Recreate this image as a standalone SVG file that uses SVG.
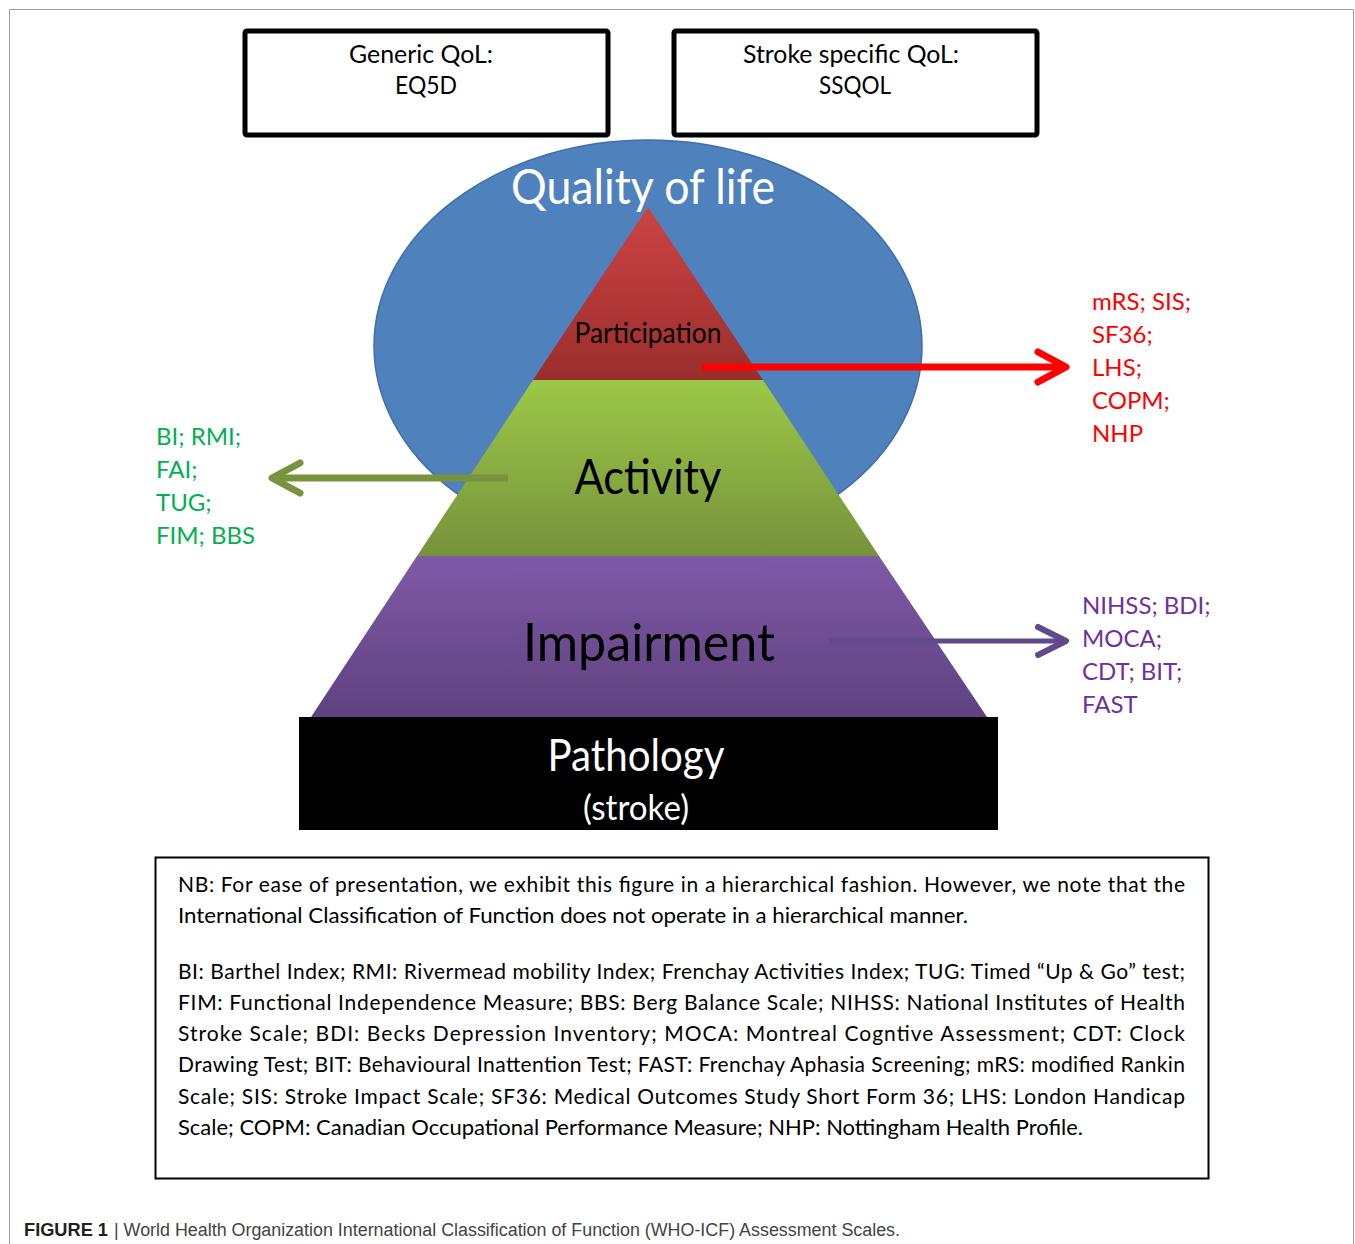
<svg xmlns="http://www.w3.org/2000/svg" width="1355" height="1244" viewBox="0 0 1355 1244">
<style>
.f{font-family:Lato,"Open Sans","Liberation Sans",sans-serif}
.box{fill:#fff;stroke:#000;stroke-width:5}
.lab{font-size:25px;fill:#000;text-anchor:middle}
.side{font-size:24px}
.g{fill:#00B050}.r{fill:#FF0000}.p{fill:#7030A0}
.nb{font-size:21px;fill:#000}
.cap{font-family:"Liberation Sans Narrow","Liberation Sans",sans-serif;font-size:18px}
</style>
<defs>
<linearGradient id="gr" x1="0" y1="0" x2="0" y2="1"><stop offset="0" stop-color="#CD4343"/><stop offset="1" stop-color="#9A2E2C"/></linearGradient>
<linearGradient id="gg" x1="0" y1="0" x2="0" y2="1"><stop offset="0" stop-color="#9CC848"/><stop offset="1" stop-color="#76923B"/></linearGradient>
<linearGradient id="gp" x1="0" y1="0" x2="0" y2="1"><stop offset="0" stop-color="#7F59A7"/><stop offset="1" stop-color="#5E427F"/></linearGradient>
<marker id="mr" markerUnits="userSpaceOnUse" orient="auto" overflow="visible" markerWidth="40" markerHeight="40"><path d="M-28,-15 L0,0 L-28,15" fill="none" stroke="#FF0000" stroke-width="7" stroke-linecap="round" stroke-linejoin="round"/></marker>
<marker id="mg" markerUnits="userSpaceOnUse" orient="auto" overflow="visible" markerWidth="40" markerHeight="40"><path d="M-28,-15 L0,0 L-28,15" fill="none" stroke="#77933C" stroke-width="7" stroke-linecap="round" stroke-linejoin="round"/></marker>
<marker id="mp" markerUnits="userSpaceOnUse" orient="auto" overflow="visible" markerWidth="40" markerHeight="40"><path d="M-28,-14 L0,0 L-28,14" fill="none" stroke="#5F4B8B" stroke-width="6" stroke-linecap="round" stroke-linejoin="round"/></marker>
</defs>
<rect width="1355" height="1244" fill="#fff"/>
<path d="M9.5,1244 V9.5 H1353.5 V1244" fill="none" stroke="#A0A0A0" stroke-width="1"/>

<g id="generic-qol" class="f">
<rect class="box" x="245" y="31" width="363" height="104" rx="2"/>
<text class="lab" x="421" y="63" textLength="144" lengthAdjust="spacingAndGlyphs">Generic QoL:</text>
<text class="lab" x="426" y="94" textLength="62" lengthAdjust="spacingAndGlyphs">EQ5D</text>
</g>
<g id="stroke-qol" class="f">
<rect class="box" x="674" y="31" width="363" height="104" rx="2"/>
<text class="lab" x="851" y="63" textLength="216" lengthAdjust="spacingAndGlyphs">Stroke specific QoL:</text>
<text class="lab" x="855" y="94" textLength="72" lengthAdjust="spacingAndGlyphs">SSQOL</text>
</g>

<g id="quality-of-life" class="f">
<ellipse cx="648" cy="346" rx="274" ry="206" fill="#4F81BD" stroke="#3F6FA8" stroke-width="1.5"/>
<text x="643" y="204" font-size="48" fill="#fff" text-anchor="middle" textLength="264" lengthAdjust="spacingAndGlyphs">Quality of life</text>
</g>

<g id="participation" class="f">
<polygon points="648,207 533,380 763,380" fill="url(#gr)"/>
<text x="648" y="343" font-size="28" fill="#000" text-anchor="middle" textLength="147" lengthAdjust="spacingAndGlyphs">Participation</text>
</g>
<g id="activity" class="f">
<polygon points="533,380 763,380 879,556 417,556" fill="url(#gg)"/>
<text x="648" y="494" font-size="48" fill="#000" text-anchor="middle" textLength="147" lengthAdjust="spacingAndGlyphs">Activity</text>
</g>
<g id="impairment" class="f">
<polygon points="417,556 879,556 987,717 311,717" fill="url(#gp)"/>
<text x="649" y="661" font-size="52" fill="#000" text-anchor="middle" textLength="252" lengthAdjust="spacingAndGlyphs">Impairment</text>
</g>
<g id="pathology" class="f">
<rect x="299" y="717" width="699" height="113" fill="#000"/>
<text x="636" y="771" font-size="44" fill="#fff" text-anchor="middle" textLength="177" lengthAdjust="spacingAndGlyphs">Pathology</text>
<text x="636" y="820" font-size="34" fill="#fff" text-anchor="middle" textLength="106" lengthAdjust="spacingAndGlyphs">(stroke)</text>
</g>

<g id="activity-scales" class="f side g">
<text x="156" y="445">BI; RMI;</text>
<text x="156" y="478">FAI;</text>
<text x="156" y="511">TUG;</text>
<text x="156" y="544">FIM; BBS</text>
</g>
<g id="participation-scales" class="f side r">
<text x="1092" y="310">mRS; SIS;</text>
<text x="1092" y="343">SF36;</text>
<text x="1092" y="376">LHS;</text>
<text x="1092" y="409">COPM;</text>
<text x="1092" y="442">NHP</text>
</g>
<g id="impairment-scales" class="f side p">
<text x="1082" y="614">NIHSS; BDI;</text>
<text x="1082" y="647">MOCA;</text>
<text x="1082" y="680">CDT; BIT;</text>
<text x="1082" y="713">FAST</text>
</g>

<g id="connectors" fill="none">
<line x1="702" y1="367" x2="1066" y2="367" stroke="#FF0000" stroke-width="7" marker-end="url(#mr)"/>
<line x1="508" y1="478" x2="272" y2="478" stroke="#77933C" stroke-width="7" marker-end="url(#mg)"/>
<line x1="830" y1="641" x2="1066" y2="641" stroke="#5F4B8B" stroke-width="5" marker-end="url(#mp)"/>
</g>

<g id="note" class="f nb">
<rect x="155.5" y="857.5" width="1053" height="321" fill="none" stroke="#000" stroke-width="2"/>
<text x="178" y="892" textLength="1007" lengthAdjust="spacing">NB: For ease of presentation, we exhibit this figure in a hierarchical fashion.  However, we note that the</text>
<text x="178" y="923" textLength="790" lengthAdjust="spacingAndGlyphs">International Classification of Function does not operate in a hierarchical manner.</text>
<text x="178" y="979" textLength="1007" lengthAdjust="spacing">BI: Barthel Index; RMI: Rivermead mobility Index; Frenchay Activities Index; TUG: Timed “Up &amp; Go” test;</text>
<text x="178" y="1010" textLength="1007" lengthAdjust="spacing">FIM: Functional Independence Measure; BBS: Berg Balance Scale; NIHSS: National Institutes of Health</text>
<text x="178" y="1041" textLength="1007" lengthAdjust="spacing">Stroke Scale; BDI: Becks Depression Inventory; MOCA: Montreal Cogntive Assessment; CDT: Clock</text>
<text x="178" y="1072" textLength="1007" lengthAdjust="spacing">Drawing Test; BIT: Behavioural Inattention Test; FAST: Frenchay Aphasia Screening; mRS: modified Rankin</text>
<text x="178" y="1104" textLength="1007" lengthAdjust="spacing">Scale; SIS: Stroke Impact Scale; SF36: Medical Outcomes Study Short Form 36; LHS: London Handicap</text>
<text x="178" y="1135" textLength="905" lengthAdjust="spacingAndGlyphs">Scale; COPM: Canadian Occupational Performance Measure; NHP: Nottingham Health Profile.</text>
</g>

<g id="caption" class="cap">
<text x="24" y="1236" font-weight="bold" fill="#231F20" textLength="84" lengthAdjust="spacingAndGlyphs">FIGURE 1</text>
<text x="114" y="1236" fill="#444" textLength="786" lengthAdjust="spacingAndGlyphs">| World Health Organization International Classification of Function (WHO-ICF) Assessment Scales.</text>
</g>
</svg>
